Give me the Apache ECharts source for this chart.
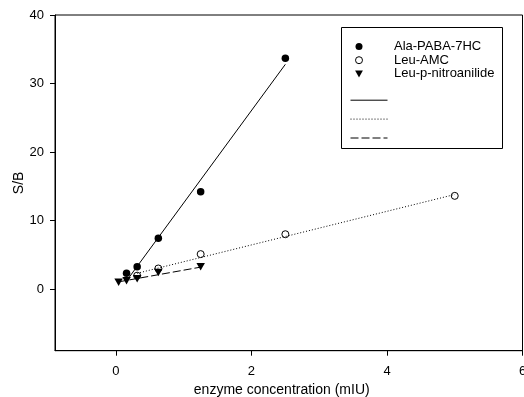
<!DOCTYPE html>
<html>
<head>
<meta charset="utf-8">
<script src="https://cdn.jsdelivr.net/npm/echarts@6/dist/echarts.min.js"></script>
<style>html,body{margin:0;padding:0;background:#fff;}#c{width:524px;height:397px;}</style>
</head>
<body>
<div id="c"></div>
<script>
// Data
var alaX = [0.156, 0.3125, 0.625, 1.25, 2.5];
var alaY = [2.3, 3.25, 7.4, 14.2, 33.7];
var amcX = [0.3125, 0.625, 1.25, 2.5, 5];
var amcY = [1.95, 3.0, 5.1, 8.0, 13.6];
var pnaX = [0.039, 0.156, 0.3125, 0.625, 1.25];
var pnaY = [1.0, 1.2, 1.5, 2.4, 3.25];
// fitted-line end points
var alaFitX = [0.156, 2.5];
var alaFitY = [1.2, 32.8];
var amcFitX = [0.3125, 5];
var amcFitY = [2.3, 13.8];
var pnaFitX = [0.039, 1.25];
var pnaFitY = [1.05, 3.2];
var xTicks = [0, 2, 4, 6];
var yTicks = [0, 10, 20, 30, 40];
var names = ['Ala-PABA-7HC', 'Leu-AMC', 'Leu-p-nitroanilide'];

function pairs(xs, ys) { return xs.map(function (x, i) { return [x, ys[i]]; }); }

var font = 'Liberation Sans, Arial, sans-serif';
var downTri = 'path://M0,0 L10,0 L5,9 Z';
var chart = echarts.init(document.getElementById('c'), null, {renderer: 'canvas'});
chart.setOption({
  animation: false,
  backgroundColor: '#fff',
  grid: {left: 55, top: 15, right: 1.5, bottom: 46.3, outerBoundsMode: 'none', containLabel: false, show: true, borderColor: '#000', borderWidth: 1, backgroundColor: 'transparent'},
  xAxis: {
    type: 'value', min: -0.9, max: 6,
    name: 'enzyme concentration (mIU)', nameLocation: 'middle', nameGap: 32,
    nameTextStyle: {fontFamily: font, fontSize: 14, color: '#000', padding: [0, 14, 0, 0]},
    axisLine: {show: true, onZero: false, lineStyle: {color: '#000', width: 1}},
    axisTick: {show: true, length: 5, customValues: xTicks, lineStyle: {color: '#000'}},
    axisLabel: {customValues: xTicks, fontFamily: font, fontSize: 13, color: '#000', margin: 14, showMaxLabel: true},
    splitLine: {show: false}
  },
  yAxis: {
    type: 'value', min: -9, max: 40,
    name: 'S/B', nameLocation: 'middle', nameGap: 29, nameMoveOverlap: false,
    nameTextStyle: {fontFamily: font, fontSize: 14, color: '#000'},
    axisLine: {show: true, onZero: false, lineStyle: {color: '#000', width: 1}},
    axisTick: {show: true, length: 5, customValues: yTicks, lineStyle: {color: '#000'}},
    axisLabel: {customValues: yTicks, fontFamily: font, fontSize: 13, color: '#000', margin: 11},
    splitLine: {show: false}
  },
  graphic: [{
    type: 'rect', left: 341, top: 27, z: 0,
    shape: {width: 161, height: 121},
    style: {fill: '#fff', stroke: '#000', lineWidth: 1}
  }],
  legend: [{
    data: [
      {name: names[0], icon: 'circle'},
      {name: names[1], icon: 'circle', itemStyle: {color: '#fff', borderColor: '#000', borderWidth: 1}},
      {name: names[2], icon: downTri}
    ],
    orient: 'vertical', left: 355, top: 40, padding: 0, itemWidth: 20, itemHeight: 7, itemGap: 0.7,
    textStyle: {fontFamily: font, fontSize: 13, lineHeight: 11, color: '#000', padding: [0, 0, 0, 20]},
    selectedMode: false, z: 10
  }, {
    data: ['fitA', 'fitB', 'fitC'], orient: 'vertical', left: 350, top: 97, padding: 0, itemWidth: 37, itemHeight: 8, itemGap: 12.5,
    itemStyle: {color: 'rgba(0,0,0,0)', borderColor: 'rgba(0,0,0,0)', borderWidth: 0},
    lineStyle: {width: 1, color: '#000', opacity: 1},
    textStyle: {lineHeight: 8, fontSize: 8},
    formatter: function () { return ''; }, selectedMode: false, z: 10
  }],
  series: [
    {name: 'fitA', type: 'line', data: pairs(alaFitX, alaFitY), symbol: 'none', lineStyle: {color: '#000', width: 1, type: 'solid'}, itemStyle: {color: '#000'}},
    {name: 'fitB', type: 'line', data: pairs(amcFitX, amcFitY), symbol: 'none', lineStyle: {color: '#000', width: 1, type: [1, 2]}, itemStyle: {color: '#000'}},
    {name: 'fitC', type: 'line', data: pairs(pnaFitX, pnaFitY), symbol: 'none', lineStyle: {color: '#000', width: 1, type: [8, 3]}, itemStyle: {color: '#000'}},
    {name: names[0], type: 'scatter', data: pairs(alaX, alaY), symbol: 'circle', symbolSize: 7.5, itemStyle: {color: '#000', opacity: 1}},
    {name: names[1], type: 'scatter', data: pairs(amcX, amcY), symbol: 'circle', symbolSize: 7, itemStyle: {color: '#fff', borderColor: '#000', borderWidth: 1, opacity: 1}},
    {name: names[2], type: 'scatter', data: pairs(pnaX, pnaY), symbol: downTri, symbolSize: [8.5, 7.5], itemStyle: {color: '#000', opacity: 1}}
  ]
});
</script>
</body>
</html>
